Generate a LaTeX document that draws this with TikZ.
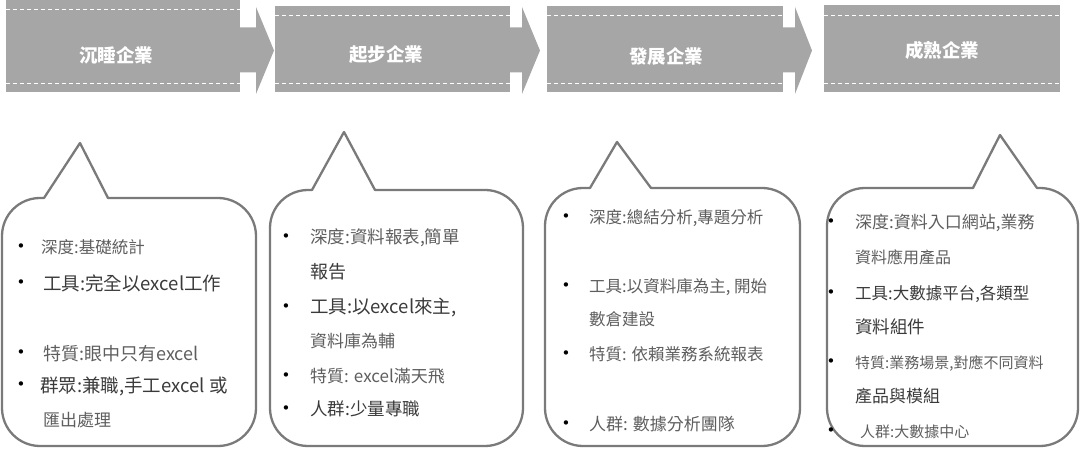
\documentclass[tikz,border=0pt]{standalone}
\usepackage{fontspec}
\setmainfont{Noto Sans CJK TC}
\newfontfamily\bulletfont{DejaVu Sans}
\definecolor{stagegray}{HTML}{A6A6A6}
\definecolor{calloutgray}{HTML}{7A7A7A}
\definecolor{lightgray}{HTML}{5E5E5E}
\definecolor{darkgray}{HTML}{3A3A3A}
\newcommand{\fs}[1]{\fontsize{#1}{#1}\selectfont}
\begin{document}
\begin{tikzpicture}[x=1pt,y=-1pt,
  stage/.style={fill=stagegray,draw=none},
  dashline/.style={draw=white,dash pattern=on 4pt off 3pt,line width=0.8pt},
  stagetext/.style={text=white,inner sep=0pt,font=\bfseries\fs{18.5}},
  callout/.style={draw=calloutgray,line width=2.3pt,line join=round,line cap=round},
  item/.style={anchor=base west,inner sep=0pt,text=lightgray},
  itemdark/.style={item,text=darkgray},
  bul/.style={anchor=center,inner sep=0pt,text=black,font=\bulletfont\fs{15}}]
\useasboundingbox (0,0) rectangle (1080,454);

% ---------- stage bars ----------
\fill[stage] (6,0) rectangle (240,92);
\fill[stage] (240,27.5) -- (256,27.5) -- (256,7) -- (274,50.5) -- (256,94) -- (256,72.5) -- (240,72.5) -- cycle;
\draw[dashline] (6,9.7) -- (240,9.7);
\draw[dashline] (6,83) -- (240,83);
\node[stagetext] (s1) at (116,55) {沉睡企業};

\fill[stage] (275,6) rectangle (510,92);
\fill[stage] (510,27.5) -- (522,27.5) -- (522,7) -- (540,50.5) -- (522,94) -- (522,72.5) -- (510,72.5) -- cycle;
\draw[dashline] (275,15.5) -- (510,15.5);
\draw[dashline] (275,83) -- (510,83);
\node[stagetext] (s2) at (386,55) {起步企業};

\fill[stage] (547,6) rectangle (783,92);
\fill[stage] (783,27.5) -- (795,27.5) -- (795,7) -- (812,50.5) -- (795,94) -- (795,72.5) -- (783,72.5) -- cycle;
\draw[dashline] (547,15.5) -- (783,15.5);
\draw[dashline] (547,83) -- (783,83);
\node[stagetext] (s3) at (666,56) {發展企業};

\fill[stage] (824,5) rectangle (1060,92);
\draw[dashline] (824,15.5) -- (1060,15.5);
\draw[dashline] (824,83) -- (1060,83);
\node[stagetext] (s4) at (942,50) {成熟企業};

% ---------- callouts ----------
\draw[callout,rounded corners=38pt] (108,198) -- (256,198) -- (256,446) -- (2,446) -- (2,198) -- (44,198);
\draw[callout] (44,198) -- (80,143) -- (108,198);

\draw[callout,rounded corners=38pt] (375,190) -- (523,190) -- (523,446) -- (270,446) -- (270,190) -- (312,190);
\draw[callout] (312,190) -- (344,132) -- (375,190);

\draw[callout,rounded corners=38pt] (651,188) -- (800,188) -- (800,446) -- (545,446) -- (545,188) -- (590,188);
\draw[callout] (590,188) -- (617,142) -- (651,188);

\draw[callout,rounded corners=38pt] (1037,188) -- (1078,188) -- (1078,446) -- (827,446) -- (827,188) -- (973,188);
\draw[callout] (973,188) -- (1000,135) -- (1037,188);

% ---------- callout 1 text ----------
\node[bul] (b11) at (21,248) {•};
\node[item,font=\fs{16.5}] (t11) at (41,254) {深度:基礎統計};
\node[bul] (b12) at (21,284) {•};
\node[itemdark,font=\fs{18.5}] (t12) at (43,290.5) {工具:完全以excel工作};
\node[bul] (b13) at (21,354) {•};
\node[item,font=\fs{18}] (t13) at (43,360.5) {特質:眼中只有excel};
\node[bul] (b14) at (21,386) {•};
\node[itemdark,font=\fs{18.5}] (t14) at (40,392.5) {群眾:兼職,手工excel 或};
\node[item,font=\fs{17}] (t15) at (43,426.5) {匯出處理};

% ---------- callout 2 text ----------
\node[bul] (b21) at (286,238) {•};
\node[item,font=\fs{17.5}] (t21) at (310,244) {深度:資料報表,簡單};
\node[itemdark,font=\fs{18}] (t22) at (310,279) {報告};
\node[bul] (b23) at (286,308) {•};
\node[itemdark,font=\fs{18.5}] (t23) at (310,314) {工具:以excel來主,};
\node[item,font=\fs{17}] (t24) at (310,348) {資料庫為輔};
\node[bul] (b25) at (286,377) {•};
\node[item,font=\fs{17}] (t25) at (310,383) {特質: excel滿天飛};
\node[bul] (b26) at (286,410) {•};
\node[itemdark,font=\fs{17.5}] (t26) at (310,416) {人群:少量專職};

% ---------- callout 3 text ----------
\node[bul] (b31) at (566,218) {•};
\node[item,font=\fs{16.5}] (t31) at (589,224) {深度:總結分析,專題分析};
\node[bul] (b32) at (566,287) {•};
\node[item,font=\fs{16.5}] (t32) at (589,293) {工具:以資料庫為主, 開始};
\node[item,font=\fs{16.5}] (t33) at (589,326) {數倉建設};
\node[bul] (b34) at (566,355) {•};
\node[item,font=\fs{16.5}] (t34) at (589,361) {特質: 依賴業務系統報表};
\node[bul] (b35) at (566,425) {•};
\node[item,font=\fs{17}] (t35) at (589,431) {人群: 數據分析團隊};

% ---------- callout 4 text ----------
\node[bul] (b41) at (831,223) {•};
\node[item,font=\fs{17}] (t41) at (855,229) {深度:資料入口網站,業務};
\node[item,font=\fs{16}] (t42) at (855,264) {資料應用產品};
\node[bul] (b43) at (831,294) {•};
\node[itemdark,font=\fs{16.5}] (t43) at (855,300) {工具:大數據平台,各類型};
\node[itemdark,font=\fs{17.5}] (t44) at (855,334) {資料組件};
\node[bul] (b45) at (831,363) {•};
\node[item,font=\fs{15}] (t45) at (855,369) {特質:業務場景,對應不同資料};
\node[itemdark,font=\fs{17}] (t46) at (855,403) {產品與模組};
\node[bul] (b47) at (831,432) {•};
\node[item,font=\fs{15}] (t47) at (860,438) {人群:大數據中心};
\end{tikzpicture}
\end{document}
